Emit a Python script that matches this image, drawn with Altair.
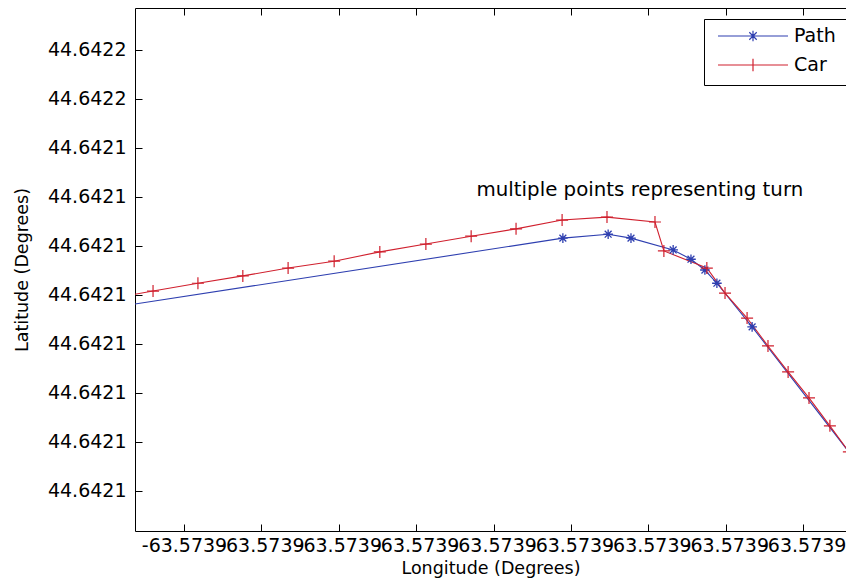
import altair as alt
import pandas as pd

# ---- data ----
series_names = ["Path", "Car"]
series_colors = ["#2e3fb0", "#d0202e"]

path_lon = [-63.57391230, -63.57390021, -63.57389904, -63.57389845, -63.57389736,
            -63.57389690, -63.57389654, -63.57389623, -63.57389532, -63.57389202]
path_lat = [44.6421089, 44.6421236, 44.6421244, 44.6421236, 44.6421212,
            44.6421193, 44.6421171, 44.6421144, 44.6421055, 44.6420718]

car_lon = [-63.57391196, -63.57391080, -63.57390964, -63.57390848, -63.57390731,
           -63.57390612, -63.57390494, -63.57390375, -63.57390258, -63.57390142,
           -63.57390023, -63.57389907, -63.57389783, -63.57389760, -63.57389649,
           -63.57389602, -63.57389545, -63.57389491, -63.57389439, -63.57389385,
           -63.57389331, -63.57389282, -63.57389227]
car_lat = [44.6421112, 44.6421128, 44.6421144, 44.6421159, 44.6421175,
           44.6421189, 44.6421208, 44.6421224, 44.6421240, 44.6421255,
           44.6421273, 44.6421279, 44.6421269, 44.6421210, 44.6421175,
           44.6421124, 44.6421073, 44.6421016, 44.6420963, 44.6420910,
           44.6420853, 44.6420800, 44.6420744]

x_ticks = [-63.573910, -63.573908, -63.573906, -63.573904, -63.573902,
           -63.573900, -63.573898, -63.573896, -63.573894]
y_ticks = [44.642162, 44.642152, 44.642142, 44.642132, 44.642122,
           44.642112, 44.642102, 44.642092, 44.642082, 44.642072]
x_domain = [-63.5739112661, -63.5738928941]
y_domain = [44.6420638367, 44.6421705714]

note_text = ["multiple points representing turn"]
note_lon = [-63.57389822]
note_lat = [44.6421334]

# ---- tables ----
rows = []
for i, (lo, la) in enumerate(zip(path_lon, path_lat)):
    rows.append({"series": "Path", "order": i, "lon": lo, "lat": la})
for i, (lo, la) in enumerate(zip(car_lon, car_lat)):
    rows.append({"series": "Car", "order": i, "lon": lo, "lat": la})
df = pd.DataFrame(rows)
note_df = pd.DataFrame({"lon": note_lon, "lat": note_lat, "text": note_text})

FONT = "DejaVu Sans"
W, H = 711, 523

xs = alt.Scale(domain=x_domain, nice=False, zero=False)
ys = alt.Scale(domain=y_domain, nice=False, zero=False)
color_scale = alt.Scale(domain=series_names, range=series_colors)

star = "M-0.8,0L0.8,0M0,-0.8L0,0.8M-0.57,-0.57L0.57,0.57M-0.57,0.57L0.57,-0.57"
plus = "M-1,0L1,0M0,-1L0,1"

# legend symbols: line sample with the marker in its middle
leg_star = ("M-1,0L1,0M0,-0.15L0,0.15M-0.15,0L0.15,0"
            "M-0.106,-0.106L0.106,0.106M-0.106,0.106L0.106,-0.106")
leg_plus = "M-1,0L1,0M0,-0.18L0,0.18"
legend_shape_scale = alt.Scale(domain=series_names, range=[leg_star, leg_plus])

legend = alt.Legend(
    orient="none", legendX=569, legendY=11, title=None,
    padding=10, clipHeight=14, rowPadding=10,
    symbolSize=4900, symbolOffset=3, labelOffset=5,
    labelFont=FONT, labelFontSize=19, labelColor="black",
    strokeColor="black", fillColor="white", symbolStrokeWidth=1.2,
    symbolOpacity=1, symbolFillColor="transparent",
)

# axis with labels and titles (no ticks)
x_axis_main = alt.Axis(
    values=x_ticks, labelExpr="'-' + format(abs(datum.value), '.4f')",
    ticks=False, domain=True, domainColor="black", domainWidth=1,
    grid=False, labelOverlap=False, labelFlush=False,
    labelFont=FONT, labelFontSize=19, labelColor="black", labelPadding=5,
    title="Longitude (Degrees)", titleFont=FONT, titleFontSize=17.5,
    titleFontWeight="normal", titleColor="black", titlePadding=4,
)
y_axis_main = alt.Axis(
    values=y_ticks, format=".4f",
    ticks=False, domain=True, domainColor="black", domainWidth=1,
    grid=False, labelOverlap=False,
    labelFont=FONT, labelFontSize=19, labelColor="black", labelPadding=9,
    title="Latitude (Degrees)", titleFont=FONT, titleFontSize=17.5,
    titleFontWeight="normal", titleColor="black", titlePadding=16,
)
# inward ticks: axes placed on the opposite side
x_axis_bottom_ticks = alt.Axis(values=x_ticks, orient="top", offset=-H, labels=False,
                               domain=False, grid=False, tickSize=7, tickColor="black",
                               tickWidth=1, title=None)
y_axis_left_ticks = alt.Axis(values=y_ticks, orient="right", offset=-W, labels=False,
                             domain=False, grid=False, tickSize=7, tickColor="black",
                             tickWidth=1, title=None)
x_axis_top = alt.Axis(values=x_ticks, orient="bottom", offset=-H, labels=False,
                      domain=True, domainColor="black", domainWidth=1,
                      grid=False, tickSize=7, tickColor="black",
                      tickWidth=1, title=None)

lines = alt.Chart(df).mark_line(strokeWidth=1.1, clip=True).encode(
    x=alt.X("lon:Q", scale=xs, axis=x_axis_main),
    y=alt.Y("lat:Q", scale=ys, axis=y_axis_main),
    color=alt.Color("series:N", scale=color_scale, legend=legend),
    order="order:Q",
)

path_points = alt.Chart(df).transform_filter("datum.series === 'Path'").mark_point(
    shape=star, filled=False, size=144, strokeWidth=1.3, opacity=1, clip=True).encode(
    x=alt.X("lon:Q", scale=xs, axis=x_axis_bottom_ticks),
    y=alt.Y("lat:Q", scale=ys, axis=y_axis_left_ticks),
    color=alt.Color("series:N", scale=color_scale, legend=legend),
)

car_points = alt.Chart(df).transform_filter("datum.series === 'Car'").mark_point(
    shape=plus, filled=False, size=144, strokeWidth=1.2, opacity=1, clip=True).encode(
    x=alt.X("lon:Q", scale=xs, axis=None),
    y=alt.Y("lat:Q", scale=ys, axis=None),
    color=alt.Color("series:N", scale=color_scale, legend=legend),
)

note = alt.Chart(note_df).mark_text(font=FONT, fontSize=19.8, color="black",
                                    align="center", baseline="middle").encode(
    x=alt.X("lon:Q", scale=xs, axis=x_axis_top),
    y=alt.Y("lat:Q", scale=ys, axis=None),
    text="text:N",
)

# legend-only layer (no rows drawn)
legend_layer = alt.Chart(df).transform_filter("false").mark_point(
    filled=False, strokeWidth=1.2).encode(
    color=alt.Color("series:N", scale=color_scale, legend=legend),
    shape=alt.Shape("series:N", scale=legend_shape_scale, legend=legend),
)

chart = alt.layer(lines, path_points, car_points, note, legend_layer).resolve_axis(
    x="independent", y="independent"
).properties(
    width=W, height=H,
    autosize=alt.AutoSizeParams(type="none"),
    padding={"left": 127, "top": 0, "right": 0, "bottom": 48},
    background="white",
).configure_view(stroke=None)

chart.save("out.html", embed_options={"renderer": "svg", "actions": False})
